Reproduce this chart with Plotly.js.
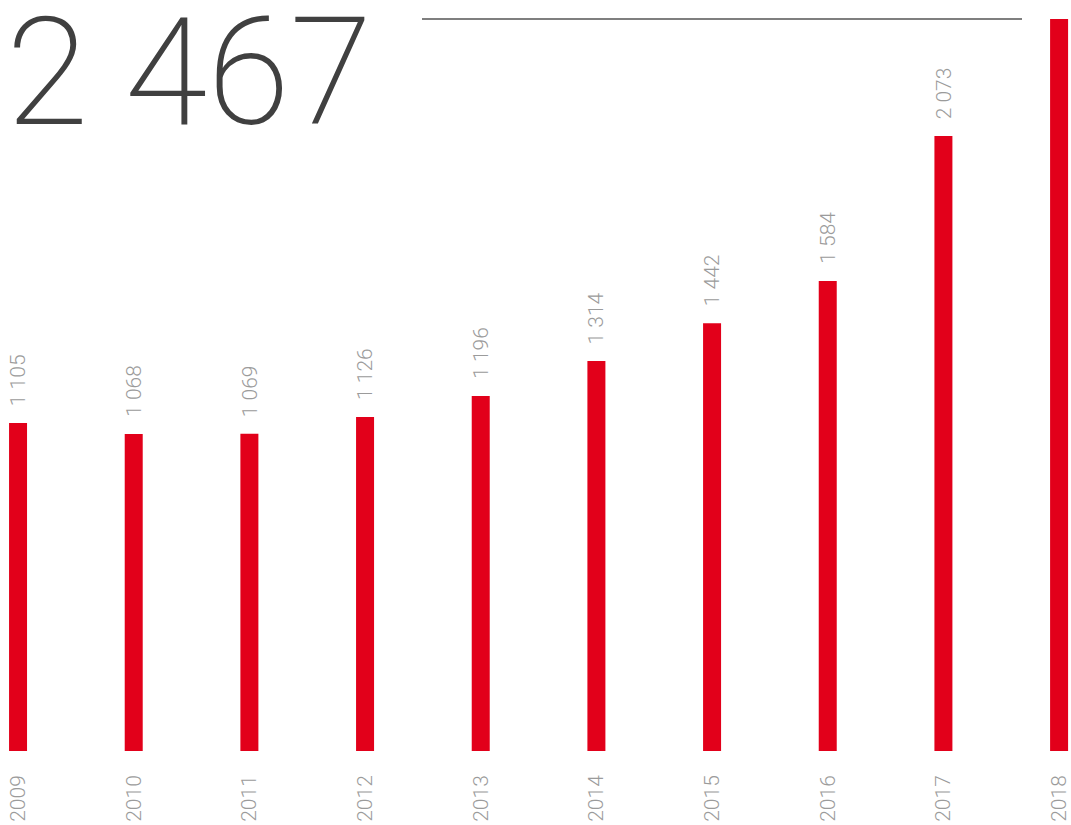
<!DOCTYPE html>
<html>
<head>
<meta charset="utf-8">
<script src="https://cdn.plot.ly/plotly-3.0.1.min.js"></script>
<style>html,body{margin:0;padding:0;background:#fff;}#chart{width:1071px;height:825px;}</style>
</head>
<body>
<div id="chart"></div>
<script>
const years = [2009, 2010, 2011, 2012, 2013, 2014, 2015, 2016, 2017, 2018];
const yearLabels = ["2009", "2010", "2011", "2012", "2013", "2014", "2015", "2016", "2017", "2018"];
const values = [1105, 1068, 1069, 1126, 1196, 1314, 1442, 1584, 2073, 2467];
const headline = "2 467";

function fmt(v) {
  return String(v).replace(/\B(?=(\d{3})+(?!\d))/g, " ");
}

const labelFont = {family: "Roboto, 'Liberation Sans', sans-serif", size: 21, color: "#9b9b9b", weight: 300};

const annotations = years.slice(0, -1).map((yr, i) => ({
  x: yr, y: values[i], xref: "x", yref: "y",
  text: fmt(values[i]), showarrow: false, textangle: -90,
  xanchor: "center", yanchor: "bottom", yshift: 15,
  font: labelFont
}));

annotations.push({
  x: 0, y: 1, xref: "paper", yref: "paper", xanchor: "left", yanchor: "top",
  xshift: 4, yshift: 17,
  text: headline, showarrow: false,
  font: {family: "Roboto, sans-serif", size: 150, color: "#404040", weight: 200}
});

const trace = {
  type: "bar", x: years, y: values,
  width: 0.1556,
  marker: {color: "#e2001a"},
  hoverinfo: "none"
};

const layout = {
  width: 1071, height: 825,
  margin: {l: 0, r: 0, t: 0, b: 74},
  paper_bgcolor: "#fff", plot_bgcolor: "#fff",
  showlegend: false,
  xaxis: {
    range: [2008.844, 2018.103],
    tickmode: "array", tickvals: years, ticktext: yearLabels,
    tickangle: -90, ticks: "", showgrid: false, zeroline: false, showline: false,
    ticklabelstandoff: 19,
    tickfont: {family: "Roboto, 'Liberation Sans', sans-serif", size: 21, color: "#9b9b9b", weight: 300}
  },
  yaxis: {
    range: [0, 2531], visible: false, showgrid: false, zeroline: false
  },
  shapes: [{
    type: "line", xref: "paper", yref: "paper",
    x0: 422 / 1071, x1: 1022 / 1071, y0: (751 - 19) / 751, y1: (751 - 19) / 751,
    line: {color: "#555", width: 1.3}
  }],
  annotations: annotations
};

Plotly.newPlot("chart", [trace], layout, {displayModeBar: false, staticPlot: true});
</script>
</body>
</html>
